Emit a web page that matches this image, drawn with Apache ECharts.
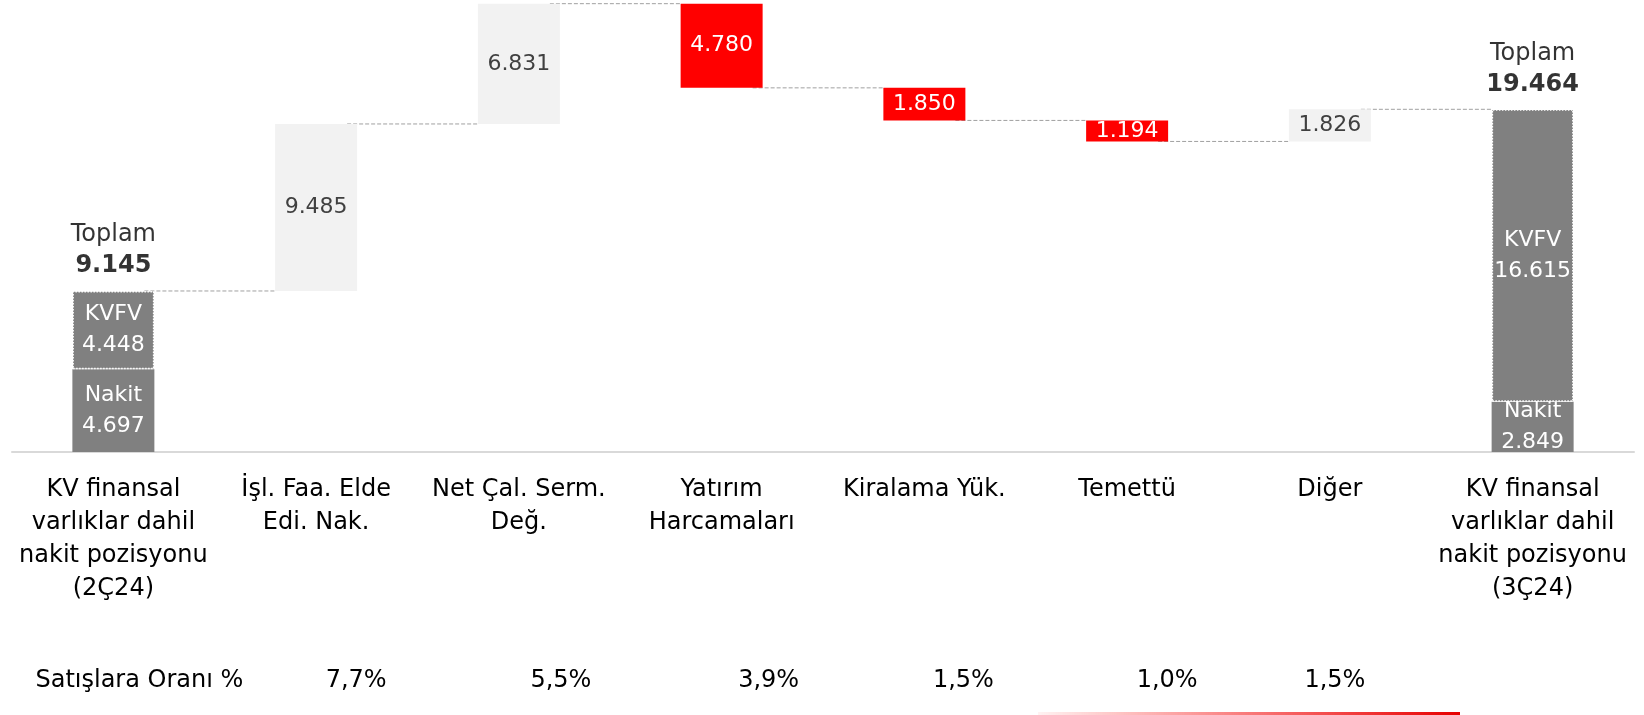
<!DOCTYPE html>
<html>
<head>
<meta charset="utf-8">
<script src="https://cdn.jsdelivr.net/npm/echarts@6/dist/echarts.min.js"></script>
<style>
  html, body { margin: 0; padding: 0; background: #fff; }
  #chart { width: 1644px; height: 715px; }
</style>
</head>
<body>
<div id="chart"></div>
<script>
// ===== 数据 =====
const categories = [
  'KV finansal\nvarlıklar dahil\nnakit pozisyonu\n(2Ç24)',
  'İşl. Faa. Elde\nEdi. Nak.',
  'Net Çal. Serm.\nDeğ.',
  'Yatırım\nHarcamaları',
  'Kiralama Yük.',
  'Temettü',
  'Diğer',
  'KV finansal\nvarlıklar dahil\nnakit pozisyonu\n(3Ç24)'
];
// 期初/期末: 现金 + KVFV
const nakitValues = [4697, null, null, null, null, null, null, 2849];
const kvfvValues = [4448, null, null, null, null, null, null, 16615];
// 变动 (正 = 增加, 负 = 减少)
const changeValues = [null, 9485, 6831, -4780, -1850, -1194, 1826, null];
// 销售占比 %
const ratioTitle = 'Satışlara Oranı %';
const ratioValues = [null, 7.7, 5.5, 3.9, 1.5, 1.0, 1.5, null];

// ===== 颜色 =====
const C = {
  text: '#000000',
  valueDark: '#404040',
  totalBar: '#808080',
  upBar: '#f2f2f2',
  downBar: '#ff0000',
  connector: '#a0a0a0',
  axis: '#d9d9d9'
};
const FONT = '"DejaVu Sans", sans-serif';
const FS = 24;      // 轴标签 / 表格文字
const FS_BAR = 22;  // 柱内数值
const BAR_W = 82;

const fmt = (v) => String(Math.abs(v)).replace(/\B(?=(\d{3})+(?!\d))/g, '.');

// 累计值 → 透明底座 / 连接线
const baseValues = [];
const levels = [];
let running = 0;
categories.forEach((_, i) => {
  if (nakitValues[i] != null) {
    running = nakitValues[i] + kvfvValues[i];
    baseValues.push(null);
  } else {
    const d = changeValues[i];
    baseValues.push(d >= 0 ? running : running + d);
    running += d;
  }
  levels.push(running);
});
const upData = changeValues.map((v) => (v != null && v > 0 ? v : null));
const downData = changeValues.map((v) => (v != null && v < 0 ? -v : null));
const totalData = nakitValues.map((v, i) => (v != null ? [i, v + kvfvValues[i]] : null)).filter(Boolean);
const connectorData = levels.slice(0, -1).map((lv, i) => [i, lv]);

const chart = echarts.init(document.getElementById('chart'), null, { renderer: 'canvas' });

const labelBase = { fontFamily: FONT, fontSize: FS_BAR, lineHeight: 31 };

const option = {
  animation: false,
  textStyle: { fontFamily: FONT },
  grid: { left: 12, right: 10, top: 3, bottom: 263, containLabel: false },
  xAxis: {
    type: 'category',
    data: categories,
    axisLine: { show: true, lineStyle: { color: C.axis, width: 2 } },
    axisTick: { show: false },
    axisLabel: {
      interval: 0,
      color: C.text,
      fontFamily: FONT,
      fontSize: FS,
      lineHeight: 33,
      margin: 21,
      verticalAlign: 'top'
    }
  },
  yAxis: {
    type: 'value',
    min: 0,
    max: 25500,
    show: false,
    splitLine: { show: false }
  },
  series: [
    {
      name: 'base',
      type: 'bar',
      stack: 'wf',
      barWidth: BAR_W,
      silent: true,
      itemStyle: { color: 'transparent' },
      data: baseValues
    },
    {
      name: 'Nakit',
      type: 'bar',
      stack: 'wf',
      barWidth: BAR_W,
      itemStyle: { color: C.totalBar },
      label: {
        show: true,
        position: 'inside',
        color: '#fff',
        ...labelBase,
        formatter: (p) => 'Nakit\n' + fmt(p.value)
      },
      data: nakitValues
    },
    {
      name: 'KVFV',
      type: 'bar',
      stack: 'wf',
      barWidth: BAR_W,
      itemStyle: { color: C.totalBar, borderColor: '#ffffff', borderWidth: 1.5, borderType: 'dotted' },
      label: {
        show: true,
        position: 'inside',
        color: '#fff',
        ...labelBase,
        formatter: (p) => 'KVFV\n' + fmt(p.value)
      },
      data: kvfvValues
    },
    {
      name: 'Artış',
      type: 'bar',
      stack: 'wf',
      barWidth: BAR_W,
      itemStyle: { color: C.upBar },
      label: {
        show: true,
        position: 'inside',
        color: C.valueDark,
        ...labelBase,
        formatter: (p) => fmt(p.value)
      },
      data: upData
    },
    {
      name: 'Azalış',
      type: 'bar',
      stack: 'wf',
      barWidth: BAR_W,
      itemStyle: { color: C.downBar },
      label: {
        show: true,
        position: 'inside',
        color: '#fff',
        ...labelBase,
        formatter: (p) => fmt(p.value)
      },
      data: downData
    },
    {
      name: 'Toplam',
      type: 'scatter',
      symbolSize: 1,
      itemStyle: { color: 'transparent' },
      silent: true,
      label: {
        show: true,
        position: 'top',
        distance: 9,
        formatter: (p) => '{a|Toplam}\n{b|' + fmt(p.value[1]) + '}',
        rich: {
          a: { fontFamily: FONT, fontSize: FS, lineHeight: 31, color: '#000' },
          b: { fontFamily: FONT, fontSize: FS, lineHeight: 31, fontWeight: 'bold', color: '#000' }
        }
      },
      data: totalData
    },
    {
      name: 'connector',
      type: 'custom',
      silent: true,
      renderItem: (params, api) => {
        const i = api.value(0);
        const lv = api.value(1);
        const a = api.coord([i, lv]);
        const b = api.coord([i + 1, lv]);
        return {
          type: 'line',
          shape: { x1: a[0] + BAR_W / 2 - 10, y1: a[1], x2: b[0] - BAR_W / 2, y2: b[1] },
          style: { stroke: C.connector, lineWidth: 1, lineDash: [4, 2] }
        };
      },
      data: connectorData,
      z: 1
    }
  ]
};

chart.setOption(option);

// 销售占比行 (按类目位置定位)
const ratioShift = [26, 40, 42, 47, 39, 40, 5, 0];
const ratioTexts = ratioValues.map((v, i) => (i === 0 ? ratioTitle : v != null ? v.toFixed(1).replace('.', ',') + '%' : ''));
const graphics = ratioTexts.map((t, i) => ({
  type: 'text',
  x: chart.convertToPixel({ xAxisIndex: 0 }, i) + ratioShift[i],
  y: 681,
  style: { text: t, fontFamily: FONT, fontSize: FS, fill: C.text, align: 'center', verticalAlign: 'middle' }
}));
graphics.push({
  type: 'rect',
  shape: { x: 1038, y: 712, width: 422, height: 3 },
  style: {
    fill: new echarts.graphic.LinearGradient(0, 0, 1, 0, [
      { offset: 0, color: 'rgba(255, 0, 0, 0.05)' },
      { offset: 1, color: 'rgba(230, 0, 0, 1)' }
    ])
  }
});
chart.setOption({ graphic: graphics });
</script>
</body>
</html>
